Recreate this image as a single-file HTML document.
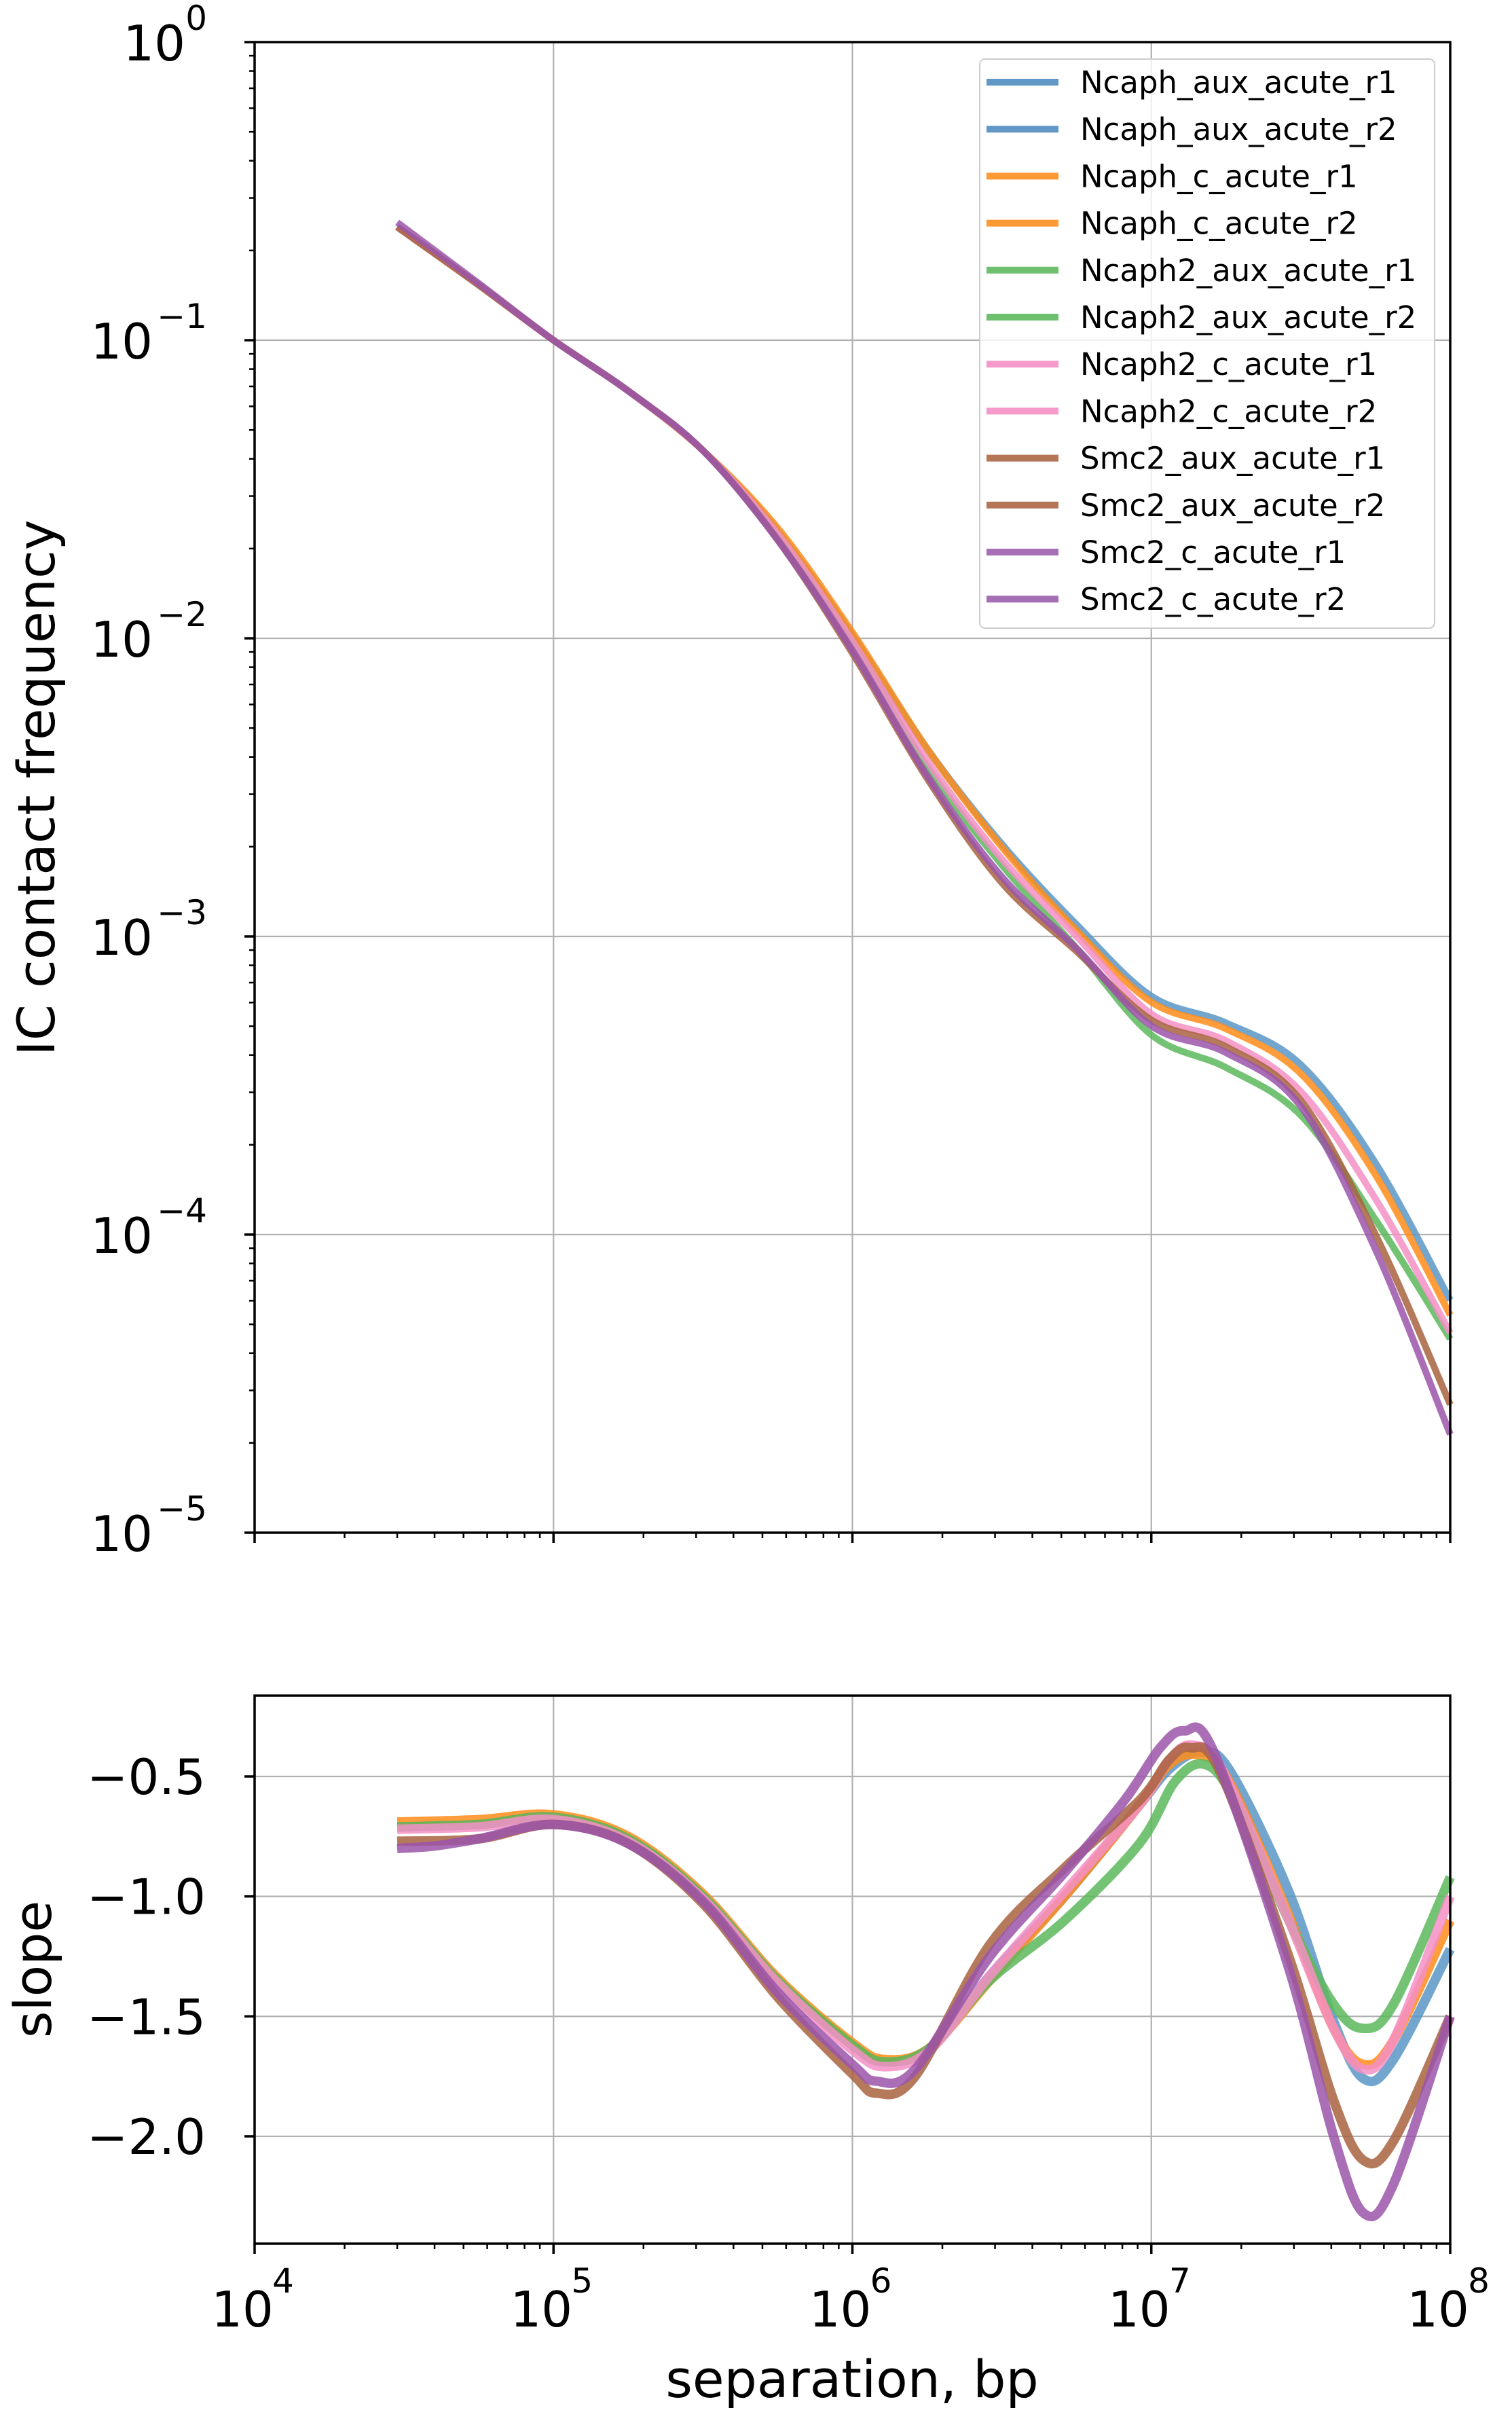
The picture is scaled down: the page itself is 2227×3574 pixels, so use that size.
<!DOCTYPE html>
<html><head><meta charset="utf-8"><style>
html,body{margin:0;padding:0;background:#fff;}
svg{display:block;font-family:"DejaVu Sans","Liberation Sans",sans-serif;}
</style></head><body>
<svg id="s" width="2227" height="3574" viewBox="0 0 2227 3574" xmlns="http://www.w3.org/2000/svg">
<rect width="2227" height="3574" fill="#fff"/>
<g id="g"></g>
<text x="80" y="1160" font-size="76" text-anchor="middle" transform="rotate(-90 80 1160)">IC contact frequency</text>
<text x="75" y="2900" font-size="76" text-anchor="middle" transform="rotate(-90 75 2900)">slope</text>
<text x="1255" y="3530" font-size="76" text-anchor="middle">separation, bp</text>
</svg>
<script>
(function(){
var NS="http://www.w3.org/2000/svg",G=document.getElementById("g");
function el(t,a,txt){var e=document.createElementNS(NS,t);for(var k in a)e.setAttribute(k,a[k]);if(txt!=null)e.textContent=txt;G.appendChild(e);return e;}
var X0=375,X1=2136;function X(l){return X0+(l-4)*(X1-X0)/4;}
var T0=62,TD=439;function YT(l){return T0+(0-l)*TD;}
var S0=2616,SD=353.3;function YS(s){return S0+(-0.5-s)*SD;}
var TB=T0+5*TD,ST=2497,SB=3304;
function sh(x){if(x>=7.99)return x;if(x>6)return x-0.04*Math.min(1,(x-6)/0.1);return x;}
for(var d=4;d<=8;d++){el("line",{x1:X(d),x2:X(d),y1:T0,y2:TB,stroke:"#b0b0b0","stroke-width":2.2});el("line",{x1:X(d),x2:X(d),y1:ST,y2:SB,stroke:"#b0b0b0","stroke-width":2.2});}
for(var d=0;d>=-5;d--)el("line",{x1:X0,x2:X1,y1:YT(d),y2:YT(d),stroke:"#b0b0b0","stroke-width":2.2});
[-0.5,-1,-1.5,-2].forEach(function(s){el("line",{x1:X0,x2:X1,y1:YS(s),y2:YS(s),stroke:"#b0b0b0","stroke-width":2.2});});
function cr(pts){var d="M"+pts[0][0]+","+pts[0][1];for(var i=0;i<pts.length-1;i++){var p0=pts[i-1]||pts[i],p1=pts[i],p2=pts[i+1],p3=pts[i+2]||p2;
d+="C"+(p1[0]+(p2[0]-p0[0])/6)+","+(p1[1]+(p2[1]-p0[1])/6)+" "+(p2[0]-(p3[0]-p1[0])/6)+","+(p2[1]-(p3[1]-p1[1])/6)+" "+p2[0]+","+p2[1];}return d;}
var C={b:"#5b96c6",o:"#ff8c1a",g:"#5cb85c",p:"#f48fc6",r:"#a8633f",u:"#9b55aa"};
var early=[[4.477,-0.62],[4.75,-0.815],[5,-1],[5.25,-1.17],[5.5,-1.37]];
var TOPD={
g:[[5.75,-1.66],[6,-2.02],[6.25,-2.43],[6.5,-2.76],[6.75,-3.04],[7,-3.33],[7.25,-3.44],[7.5,-3.6],[7.75,-3.95],[8,-4.35]],
b:[[5.75,-1.64],[6,-1.99],[6.25,-2.37],[6.5,-2.69],[6.75,-2.96],[7,-3.2],[7.25,-3.29],[7.5,-3.43],[7.75,-3.76],[8,-4.22]],
o:[[5.75,-1.63],[6,-1.98],[6.25,-2.37],[6.5,-2.70],[6.75,-2.98],[7,-3.22],[7.25,-3.31],[7.5,-3.46],[7.75,-3.8],[8,-4.27]],
p:[[5.75,-1.65],[6,-2.01],[6.25,-2.41],[6.5,-2.74],[6.75,-3.0],[7,-3.26],[7.25,-3.35],[7.5,-3.52],[7.75,-3.88],[8,-4.33]],
r:[[5.75,-1.67],[6,-2.05],[6.25,-2.47],[6.5,-2.82],[6.75,-3.05],[7,-3.28],[7.25,-3.37],[7.5,-3.55],[7.75,-4.0],[8,-4.57]],
u:[[5.75,-1.67],[6,-2.04],[6.25,-2.46],[6.5,-2.80],[6.75,-3.04],[7,-3.3],[7.25,-3.39],[7.5,-3.57],[7.75,-4.05],[8,-4.67]]};
var ST_={
b:[[4.477,-0.71],[4.75,-0.70],[5,-0.67],[5.25,-0.76],[5.5,-1.0],[5.75,-1.35],[6,-1.62],[6.15,-1.69],[6.3,-1.63],[6.5,-1.33],[6.75,-1.0],[7,-0.62],[7.1,-0.47],[7.2,-0.40],[7.3,-0.47],[7.5,-0.98],[7.65,-1.52],[7.75,-1.76],[7.85,-1.68],[8,-1.22]],
o:[[4.477,-0.69],[4.75,-0.68],[5,-0.66],[5.25,-0.75],[5.5,-0.99],[5.75,-1.34],[6,-1.61],[6.15,-1.68],[6.3,-1.63],[6.5,-1.35],[6.75,-1.0],[7,-0.62],[7.1,-0.45],[7.2,-0.41],[7.3,-0.52],[7.5,-1.08],[7.65,-1.55],[7.75,-1.70],[7.85,-1.6],[8,-1.1]],
g:[[6.3,-1.63],[6.5,-1.35],[6.75,-1.1],[7,-0.78],[7.12,-0.52],[7.22,-0.45],[7.32,-0.6],[7.5,-1.1],[7.65,-1.45],[7.75,-1.55],[7.85,-1.45],[8,-0.92]],
p:[[4.477,-0.72],[4.75,-0.71],[5,-0.68],[5.25,-0.77],[5.5,-1.01],[5.75,-1.36],[6,-1.64],[6.15,-1.71],[6.3,-1.64],[6.5,-1.33],[6.75,-0.98],[7,-0.62],[7.1,-0.43],[7.18,-0.37],[7.28,-0.48],[7.5,-1.1],[7.65,-1.55],[7.75,-1.72],[7.85,-1.6],[8,-1.0]],
r:[[4.477,-0.77],[4.75,-0.76],[5,-0.70],[5.25,-0.78],[5.5,-1.03],[5.75,-1.42],[6,-1.74],[6.12,-1.82],[6.25,-1.75],[6.5,-1.2],[6.75,-0.88],[7,-0.6],[7.1,-0.43],[7.17,-0.38],[7.27,-0.48],[7.5,-1.25],[7.65,-1.85],[7.75,-2.1],[7.85,-2.02],[8,-1.5]],
u:[[4.477,-0.80],[4.6,-0.79],[4.75,-0.76],[5,-0.70],[5.25,-0.78],[5.5,-1.02],[5.75,-1.4],[6,-1.7],[6.12,-1.77],[6.25,-1.72],[6.5,-1.25],[6.75,-0.9],[6.95,-0.6],[7.07,-0.38],[7.15,-0.31],[7.25,-0.40],[7.5,-1.3],[7.65,-2.0],[7.75,-2.32],[7.85,-2.2],[8,-1.5]]};
["b","o","g","p","r","u"].forEach(function(k){
 var pts=early.concat(TOPD[k]);
 var pp=pts.map(function(p){return [X(p[0]),YT(p[1]+(k=="u"&&p[0]<4.9?0.015*(4.9-p[0])/0.42:0))];});
 el("path",{d:cr(pp),fill:"none",stroke:C[k],"stroke-width":10,"stroke-opacity":0.85});
 var sp=ST_[k];if(k=="g")sp=ST_.b.slice(0,8).concat(ST_.g);
 el("path",{d:cr(sp.map(function(p){return [X(sh(p[0])),YS(p[1])];})),fill:"none",stroke:C[k],"stroke-width":14,"stroke-opacity":0.85});
});
el("rect",{x:X0,y:T0,width:X1-X0,height:TB-T0,fill:"none",stroke:"#000","stroke-width":3.5});
el("rect",{x:X0,y:ST,width:X1-X0,height:SB-ST,fill:"none",stroke:"#000","stroke-width":3.5});
for(var d=4;d<=8;d++){[TB,SB].forEach(function(yb){el("line",{x1:X(d),x2:X(d),y1:yb,y2:yb+15,stroke:"#000","stroke-width":3.5});});
 if(d<8)for(var m=2;m<=9;m++){var x=X(d+Math.log10(m));[TB,SB].forEach(function(yb){el("line",{x1:x,x2:x,y1:yb,y2:yb+8,stroke:"#000","stroke-width":2.5});});}
 el("text",{x:X(d)-18,y:3426,"font-size":72,"text-anchor":"middle"},"10");
 el("text",{x:X(d)+42,y:3376,"font-size":50,"text-anchor":"middle"},String(d));}
for(var d=0;d>=-5;d--){var y=YT(d);el("line",{x1:X0-15,x2:X0,y1:y,y2:y,stroke:"#000","stroke-width":3.5});
 if(d>-5)for(var m=2;m<=9;m++){var yy=YT(d-1+Math.log10(m));el("line",{x1:X0-8,x2:X0,y1:yy,y2:yy,stroke:"#000","stroke-width":2.5});}
 var lab=d==0?"0":"\u2212"+(-d);var sw=d==0?32:80;
 el("text",{x:305-sw,y:y+27,"font-size":72,"text-anchor":"end"},"10");
 el("text",{x:305,y:y-18,"font-size":50,"text-anchor":"end"},lab);}
[-0.5,-1,-1.5,-2].forEach(function(s){var y=YS(s);el("line",{x1:X0-15,x2:X0,y1:y,y2:y,stroke:"#000","stroke-width":3.5});
 el("text",{x:303,y:y+26,"font-size":72,"text-anchor":"end"},"\u2212"+s.toFixed(1).replace("-",""));});
el("rect",{x:1443,y:87,width:670,height:838,rx:8,fill:"#fff","fill-opacity":0.8,stroke:"#cccccc","stroke-width":2});
var names=["Ncaph_aux_acute_r1","Ncaph_aux_acute_r2","Ncaph_c_acute_r1","Ncaph_c_acute_r2","Ncaph2_aux_acute_r1","Ncaph2_aux_acute_r2","Ncaph2_c_acute_r1","Ncaph2_c_acute_r2","Smc2_aux_acute_r1","Smc2_aux_acute_r2","Smc2_c_acute_r1","Smc2_c_acute_r2"];
var lc=["#6198c8","#6198c8","#ff9933","#ff9933","#6ebf6e","#6ebf6e","#f69acb","#f69acb","#b57655","#b57655","#a56eb5","#a56eb5"];
names.forEach(function(n,i){var y=121+i*69.2;el("line",{x1:1453,x2:1559,y1:y,y2:y,stroke:lc[i],"stroke-width":10});
 el("text",{x:1591,y:y+16,"font-size":45},n);});
})();
</script>
</body></html>
